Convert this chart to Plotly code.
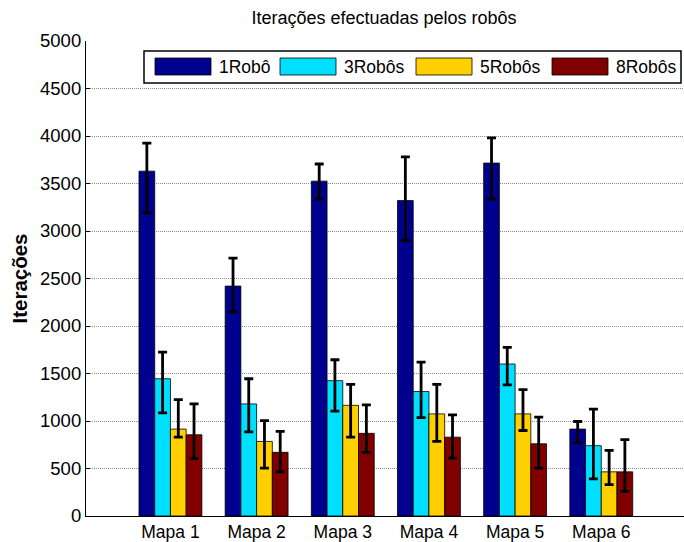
import plotly.graph_objects as go

# ---- data ----
maps = ["Mapa 1", "Mapa 2", "Mapa 3", "Mapa 4", "Mapa 5", "Mapa 6"]
series_names = ["1Robô", "3Robôs", "5Robôs", "8Robôs"]
colors = ["#00008F", "#00DFFF", "#FFCF00", "#800000"]

mean_1 = [3630, 2420, 3525, 3320, 3715, 915]
upper_1 = [3925, 2715, 3705, 3780, 3980, 995]
lower_1 = [3190, 2150, 3335, 2900, 3335, 770]

mean_3 = [1445, 1180, 1425, 1310, 1600, 740]
upper_3 = [1725, 1445, 1645, 1620, 1775, 1125]
lower_3 = [1085, 885, 1105, 1035, 1380, 390]

mean_5 = [915, 785, 1165, 1075, 1075, 465]
upper_5 = [1225, 1005, 1385, 1385, 1330, 690]
lower_5 = [830, 505, 830, 785, 900, 330]

mean_8 = [855, 670, 870, 830, 760, 465]
upper_8 = [1180, 890, 1170, 1065, 1040, 805]
lower_8 = [605, 465, 670, 610, 505, 260]

y_ticks = [0, 500, 1000, 1500, 2000, 2500, 3000, 3500, 4000, 4500, 5000]

means = [mean_1, mean_3, mean_5, mean_8]
uppers = [upper_1, upper_3, upper_5, upper_8]
lowers = [lower_1, lower_3, lower_5, lower_8]

FONT = "Liberation Sans, Arial, sans-serif"
W, H = 684, 542
ML, MR, MT, MB = 86, 0, 41, 26
PW, PH = W - ML - MR, H - MT - MB

x_pos = list(range(1, len(maps) + 1))

fig = go.Figure()
for name, col, m, u, l in zip(series_names, colors, means, uppers, lowers):
    fig.add_trace(go.Bar(
        x=x_pos, y=m, name=name,
        marker=dict(color=col, line=dict(color="black", width=0.8)),
        error_y=dict(type="data", symmetric=False,
                     array=[a - b for a, b in zip(u, m)],
                     arrayminus=[b - c for b, c in zip(m, l)],
                     color="black", thickness=2.8, width=4.5),
        showlegend=False,
    ))

# ---- custom legend box (MATLAB style) ----
def px_x(p):
    return (p - ML) / PW

def px_y(p):
    return (H - MB - p) / PH

shapes = [dict(type="rect", xref="paper", yref="paper",
               x0=px_x(144), x1=px_x(681), y0=px_y(83), y1=px_y(51),
               line=dict(color="black", width=1.5), fillcolor="white", layer="above")]
annotations = []
swatch_left = [155, 280, 416, 552]
for i, (name, col) in enumerate(zip(series_names, colors)):
    x0 = swatch_left[i]
    shapes.append(dict(type="rect", xref="paper", yref="paper",
                       x0=px_x(x0), x1=px_x(x0 + 56), y0=px_y(75), y1=px_y(58),
                       line=dict(color="black", width=0.8), fillcolor=col, layer="above"))
    annotations.append(dict(xref="paper", yref="paper", x=px_x(x0 + 62), y=px_y(66.5),
                            text=name, showarrow=False, xanchor="left", yanchor="middle",
                            font=dict(family=FONT, size=17.5, color="black")))

fig.update_layout(
    width=W, height=H,
    margin=dict(l=ML, r=MR, t=MT, b=MB),
    paper_bgcolor="white", plot_bgcolor="white",
    barmode="group", bargap=0.27, bargroupgap=0,
    title=dict(text="Iterações efectuadas pelos robôs", xref="paper", x=px_x(384),
               xanchor="center", yref="container", y=1 - 18 / H, yanchor="middle",
               font=dict(family=FONT, size=18, color="black")),
    font=dict(family=FONT, size=17, color="black"),
    shapes=shapes, annotations=annotations,
    xaxis=dict(range=[0.02, 6.96], tickvals=x_pos, ticktext=maps,
               showline=True, linecolor="black", linewidth=1.2,
               showgrid=False, zeroline=False, ticks="",
               tickfont=dict(family=FONT, size=17.5, color="black")),
    yaxis=dict(range=[0, 5000], tickvals=y_ticks,
               showline=True, linecolor="black", linewidth=1.2,
               ticks="inside", ticklen=4, tickcolor="black",
               showgrid=True, gridcolor="#8c8c8c", griddash="1px,1px", gridwidth=1,
               zeroline=False,
               tickfont=dict(family=FONT, size=18.5, color="black"),
               title=dict(text="<b>Iterações</b>", standoff=6,
                          font=dict(family=FONT, size=20.5, color="black"))),
)

fig.write_html("out.html")
